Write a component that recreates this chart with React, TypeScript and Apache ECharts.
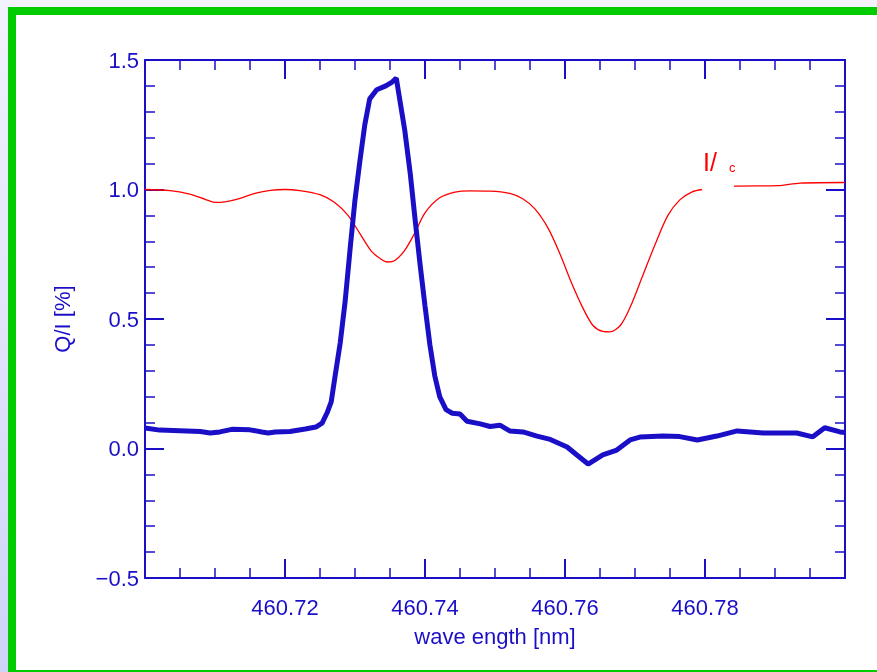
import React, { useEffect, useRef } from "react";
import * as echarts from "echarts";

// Q/I [%] curve (thick blue): wavelength [nm], value
const qWave = [
  460.7, 460.7021, 460.705, 460.7079, 460.7093, 460.7107, 460.7124, 460.715, 460.7167, 460.7176,
  460.7186, 460.7207, 460.7229, 460.7244, 460.7253, 460.726, 460.7266, 460.7271, 460.7279, 460.7286,
  460.7293, 460.73, 460.7307, 460.7314, 460.7321, 460.7331, 460.7344, 460.7353, 460.7359, 460.7364,
  460.7371, 460.7379, 460.7386, 460.7393, 460.74, 460.7407, 460.7414, 460.7421, 460.743, 460.7439,
  460.745, 460.746, 460.7479, 460.7493, 460.7507, 460.7521, 460.754, 460.756, 460.7579, 460.7603,
  460.7617, 460.7633, 460.7654, 460.7674, 460.7693, 460.7707, 460.774, 460.7764, 460.7789, 460.7817,
  460.7846, 460.7883, 460.7931, 460.7954, 460.7971, 460.7993, 460.8,
];
const qValues = [
  0.079, 0.071, 0.069, 0.066, 0.06, 0.064, 0.074, 0.072, 0.064, 0.06,
  0.064, 0.066, 0.075, 0.083, 0.098, 0.137, 0.18, 0.27, 0.41, 0.57,
  0.77, 0.96, 1.11, 1.25, 1.35, 1.385, 1.4, 1.415, 1.43, 1.346,
  1.23, 1.06, 0.88, 0.71, 0.55, 0.4, 0.28, 0.2, 0.15, 0.136,
  0.133, 0.105, 0.095, 0.085, 0.09, 0.068, 0.064, 0.048, 0.035, 0.006,
  -0.025, -0.06, -0.025, -0.006, 0.033, 0.044, 0.048, 0.046, 0.033, 0.048,
  0.068, 0.06, 0.06, 0.045, 0.08, 0.064, 0.062,
];

// I/Ic curve (thin red): wavelength [nm], value
const iWave = [
  460.7, 460.7036, 460.7064, 460.7086, 460.71, 460.7114, 460.7136, 460.7157, 460.7179, 460.72,
  460.7221, 460.725, 460.7271, 460.729, 460.7307, 460.7324, 460.7339, 460.7347, 460.7357, 460.7371,
  460.7386, 460.74, 460.7421, 460.7443, 460.7464, 460.7493, 460.7521, 460.7539, 460.7557, 460.7576,
  460.7593, 460.761, 460.7626, 460.764, 460.7654, 460.7664, 460.7679, 460.7693, 460.771, 460.7729,
  460.7747, 460.7764, 460.7781, 460.7796, 460.7843, 460.7904, 460.7936, 460.8,
];
const iValues = [
  1.0, 0.996, 0.982, 0.962, 0.95, 0.952, 0.966, 0.985, 0.997, 1.0,
  0.996, 0.98, 0.95, 0.9, 0.83, 0.76, 0.728, 0.72, 0.726, 0.765,
  0.835, 0.91, 0.968, 0.99, 0.995, 0.994, 0.985, 0.965, 0.925, 0.85,
  0.75, 0.635, 0.54, 0.475, 0.452, 0.45, 0.475, 0.545, 0.66, 0.79,
  0.9, 0.96, 0.99, 1.0, 1.013, 1.015, 1.025, 1.027,
];

const xMin = 460.7;
const xMax = 460.8;
const yMin = -0.5;
const yMax = 1.5;

const BLUE = "#1a0fc6";
const RED = "#ff0000";
const FONT = "Liberation Sans";

export default function App() {
  const ref = useRef<HTMLDivElement>(null);
  useEffect(() => {
    if (!ref.current) return;
    const chart = echarts.init(ref.current, null, { renderer: "svg" });
    const axisCommon = {
      type: "value" as const,
      axisLine: { show: true, onZero: false, lineStyle: { color: BLUE, width: 2 } },
      axisTick: { show: true, inside: true, length: 19, lineStyle: { color: BLUE, width: 2 } },
      minorTick: { show: true, length: 10, lineStyle: { color: BLUE, width: 1.5 } },
      splitLine: { show: false },
      minorSplitLine: { show: false },
    };
    chart.setOption({
      animation: false,
      backgroundColor: "transparent",
      graphic: [
        {
          type: "rect",
          z: -10,
          shape: { x: 0, y: 0, width: 877, height: 672 },
          style: {
            fill: new echarts.graphic.LinearGradient(0, 0, 0, 1, [
              { offset: 0, color: "#f2f3fd" },
              { offset: 1, color: "#cfd3f8" },
            ]),
          },
        },
        { type: "rect", z: -9, shape: { x: 8, y: 7, width: 900, height: 670 }, style: { fill: "#00cc00" } },
        { type: "rect", z: -8, shape: { x: 16, y: 15, width: 900, height: 655 }, style: { fill: "#ffffff" } },
        { type: "rect", z: 50, shape: { x: 702, y: 176, width: 32, height: 14 }, style: { fill: "#ffffff" } },
        {
          type: "text",
          z: 51,
          x: 703,
          y: 149,
          style: {
            text: "{a|I/}{b|c}",
            rich: {
              a: { fontFamily: FONT, fontSize: 25, fill: RED, verticalAlign: "top" },
              b: { fontFamily: FONT, fontSize: 13, fill: RED, padding: [12, 0, 0, 12] },
            },
          },
        },
      ],
      grid: { left: 145, top: 60, right: 32, bottom: 94, containLabel: false },
      xAxis: [
        {
          ...axisCommon,
          position: "bottom",
          min: xMin,
          max: xMax,
          interval: 0.02,
          minorTick: { ...axisCommon.minorTick, splitNumber: 4 },
          axisLabel: {
            show: true,
            color: BLUE,
            fontFamily: FONT,
            fontSize: 22,
            margin: 18,
            showMinLabel: false,
            showMaxLabel: false,
            formatter: (v: number) => v.toFixed(2),
          },
          name: "wave ength [nm]",
          nameLocation: "middle",
          nameGap: 47,
          nameTextStyle: { color: BLUE, fontFamily: FONT, fontSize: 22 },
        },
        {
          ...axisCommon,
          position: "top",
          min: xMin,
          max: xMax,
          interval: 0.02,
          minorTick: { ...axisCommon.minorTick, splitNumber: 4 },
          axisLabel: { show: false },
        },
      ],
      yAxis: [
        {
          ...axisCommon,
          position: "left",
          min: yMin,
          max: yMax,
          interval: 0.5,
          minorTick: { ...axisCommon.minorTick, splitNumber: 5 },
          axisLabel: {
            show: true,
            color: BLUE,
            fontFamily: FONT,
            fontSize: 22,
            margin: 6,
            formatter: (v: number) => (v < 0 ? "\u2212" + Math.abs(v).toFixed(1) : v.toFixed(1)),
          },
          name: "Q/I [%]",
          nameLocation: "middle",
          nameRotate: 90,
          nameGap: 72,
          nameTextStyle: { color: BLUE, fontFamily: FONT, fontSize: 22 },
        },
        {
          ...axisCommon,
          position: "right",
          min: yMin,
          max: yMax,
          interval: 0.5,
          minorTick: { ...axisCommon.minorTick, splitNumber: 5 },
          axisLabel: { show: false },
        },
      ],
      series: [
        {
          type: "line",
          name: "I/Ic",
          xAxisIndex: 0,
          yAxisIndex: 0,
          data: iWave.map((w, i) => [w, iValues[i]]),
          showSymbol: false,
          smooth: 0.3,
          lineStyle: { color: RED, width: 1.3 },
          z: 3,
        },
        {
          type: "line",
          name: "Q/I",
          xAxisIndex: 0,
          yAxisIndex: 0,
          data: qWave.map((w, i) => [w, qValues[i]]),
          showSymbol: false,
          lineStyle: { color: BLUE, width: 5 },
          z: 4,
        },
      ],
    });
    return () => chart.dispose();
  }, []);
  return (
    <div
      ref={ref}
      style={{ position: "fixed", left: 0, top: 0, width: 877, height: 672 }}
    />
  );
}
